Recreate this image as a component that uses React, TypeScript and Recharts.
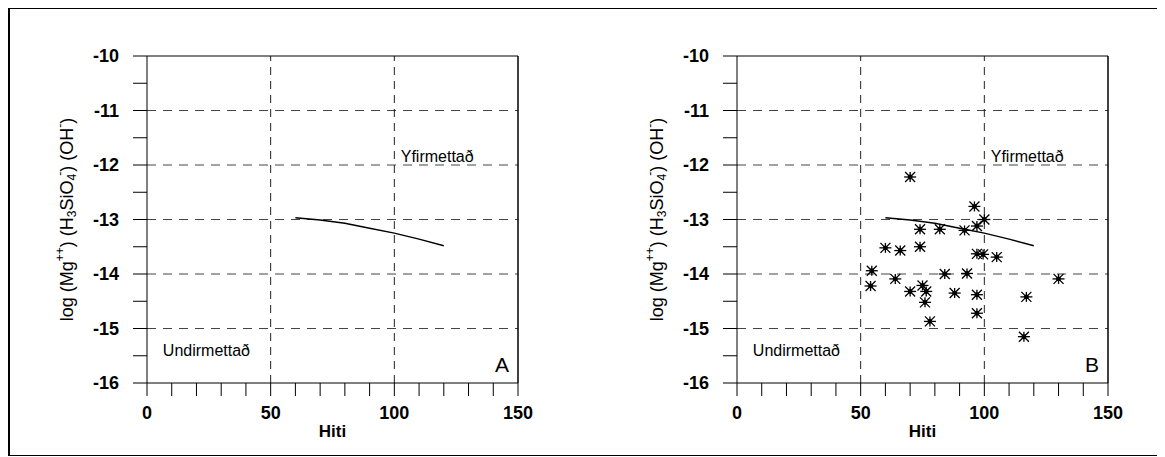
import { ScatterChart, Scatter, XAxis, YAxis, ReferenceLine, ReferenceDot } from 'recharts';

// x-axis ticks (every 10, labelled every 50) and y-axis ticks (every 0.5, labelled every 1)
const xTicks = [0, 10, 20, 30, 40, 50, 60, 70, 80, 90, 100, 110, 120, 130, 140, 150];
const xLabels = [0, 50, 100, 150];
const yTicks = [-16, -15.5, -15, -14.5, -14, -13.5, -13, -12.5, -12, -11.5, -11, -10.5, -10];
const yGrid = [-11, -12, -13, -14, -15];
const xGrid = [50, 100];

// equilibrium curve
const curveHiti = [60, 70, 80, 90, 100, 110, 120];
const curveLog = [-12.97, -13.01, -13.07, -13.16, -13.25, -13.36, -13.48];

// measured samples (panel B)
const sampleHiti = [70, 96, 100, 97, 74, 82, 92, 60, 66, 74, 97, 99.5, 105, 54.5, 84, 93, 130, 54, 64, 70, 75, 76.5, 76, 88, 97, 117, 97, 78, 116];
const sampleLog = [-12.22, -12.76, -13.0, -13.12, -13.18, -13.18, -13.2, -13.52, -13.57, -13.5, -13.63, -13.64, -13.69, -13.94, -14.0, -13.99, -14.09, -14.22, -14.09, -14.32, -14.21, -14.32, -14.52, -14.35, -14.38, -14.42, -14.72, -14.87, -15.15];

const curve = curveHiti.map((x, i) => ({ x, y: curveLog[i] }));
const samples = sampleHiti.map((x, i) => ({ x, y: sampleLog[i] }));

const FONT = '"Liberation Sans", Arial, sans-serif';

const Star = (props: any) => {
  const { cx, cy } = props;
  const r = 6;
  return (
    <g stroke="#000" strokeWidth={1.3}>
      <line x1={cx - r} y1={cy} x2={cx + r} y2={cy} />
      <line x1={cx} y1={cy - r + 1} x2={cx} y2={cy + r - 1} />
      <line x1={cx - r + 1} y1={cy - r + 1} x2={cx + r - 1} y2={cy + r - 1} />
      <line x1={cx - r + 1} y1={cy + r - 1} x2={cx + r - 1} y2={cy - r + 1} />
      <circle cx={cx} cy={cy} r={1.8} fill="#000" />
    </g>
  );
};

const XTick = (props: any) => {
  const { x, y, payload } = props;
  if (!xLabels.includes(payload.value)) return <g />;
  return (
    <text x={x} y={y + 14} textAnchor="middle" fontFamily={FONT} fontSize={18} fontWeight="bold" fill="#000">
      {payload.value}
    </text>
  );
};

const YTick = (props: any) => {
  const { x, y, payload } = props;
  if (!Number.isInteger(payload.value)) return <g />;
  return (
    <text x={x} y={y} dy={6} textAnchor="end" fontFamily={FONT} fontSize={18} fontWeight="bold" fill="#000">
      {payload.value}
    </text>
  );
};

const YTitle = (props: any) => {
  const vb = props.viewBox || {};
  const cx = vb.x + vb.width - 80;
  const cy = vb.y + vb.height / 2;
  return (
    <text
      x={cx}
      y={cy}
      transform={`rotate(-90 ${cx} ${cy})`}
      textAnchor="middle"
      dominantBaseline="central"
      fontFamily={FONT}
      fontSize={18}
      fill="#000"
    >
      <tspan>log (Mg</tspan>
      <tspan dy={-7} fontSize={12}>++</tspan>
      <tspan dy={7}>) (H</tspan>
      <tspan dy={5} fontSize={12}>3</tspan>
      <tspan dy={-5}>SiO</tspan>
      <tspan dy={5} fontSize={12}>4</tspan>
      <tspan dy={-12} dx={-2} fontSize={12}>-</tspan>
      <tspan dy={7}>) (OH</tspan>
      <tspan dy={-7} fontSize={12}>-</tspan>
      <tspan dy={7}>)</tspan>
    </text>
  );
};

const Panel = ({ letter, showSamples }: { letter: string; showSamples: boolean }) => (
  <ScatterChart width={560} height={440} margin={{ top: 47, right: 52, left: 77, bottom: 6 }}>
    <XAxis
      type="number"
      dataKey="x"
      domain={[0, 150]}
      ticks={xTicks}
      interval={0}
      tickSize={13}
      tickMargin={9}
      height={60}
      stroke="#000"
      tick={XTick}
      label={{ value: 'Hiti', position: 'insideBottom', offset: 6, fill: '#000', fontFamily: FONT, fontSize: 17, fontWeight: 'bold' }}
    />
    <YAxis
      type="number"
      dataKey="y"
      domain={[-16, -10]}
      ticks={yTicks}
      interval={0}
      tickSize={14}
      tickMargin={14}
      width={60}
      stroke="#000"
      tick={YTick}
      label={{ content: YTitle }}
    />
    {yGrid.map((v) => (
      <ReferenceLine key={'h' + v} y={v} stroke="#444" strokeDasharray="9 7" />
    ))}
    {xGrid.map((v) => (
      <ReferenceLine key={'v' + v} x={v} stroke="#222" strokeDasharray="8 6" />
    ))}
    <ReferenceLine y={-10} stroke="#000" />
    <ReferenceLine x={150} stroke="#000" strokeWidth={1.5} />
    <Scatter
      data={curve}
      line={{ stroke: '#000', strokeWidth: 1.5 }}
      lineType="joint"
      shape={() => <g />}
      isAnimationActive={false}
    />
    {showSamples && <Scatter data={samples} shape={Star} isAnimationActive={false} />}
    <ReferenceDot
      x={102.6}
      y={-11.84}
      r={0}
      stroke="none"
      label={{ value: 'Yfirmettað', position: 'right', offset: 0, fill: '#000', fontFamily: FONT, fontSize: 16 }}
    />
    <ReferenceDot
      x={6.4}
      y={-15.4}
      r={0}
      stroke="none"
      label={{ value: 'Undirmettað', position: 'right', offset: 0, fill: '#000', fontFamily: FONT, fontSize: 16 }}
    />
    <ReferenceDot
      x={143.5}
      y={-15.67}
      r={0}
      stroke="none"
      label={{ value: letter, position: 'center', fill: '#000', fontFamily: FONT, fontSize: 21 }}
    />
  </ScatterChart>
);

export default function App() {
  return (
    <div
      style={{
        position: 'relative',
        width: 1149,
        height: 446,
        borderTop: '1px solid #000',
        borderRight: '1px solid #000',
        borderBottom: '1px solid #000',
        borderLeft: '2px solid #000',
        background: '#fff',
      }}
    >
      <div style={{ position: 'absolute', left: 0, top: 0 }}>
        <Panel letter="A" showSamples={false} />
      </div>
      <div style={{ position: 'absolute', left: 590, top: 0 }}>
        <Panel letter="B" showSamples={true} />
      </div>
    </div>
  );
}
